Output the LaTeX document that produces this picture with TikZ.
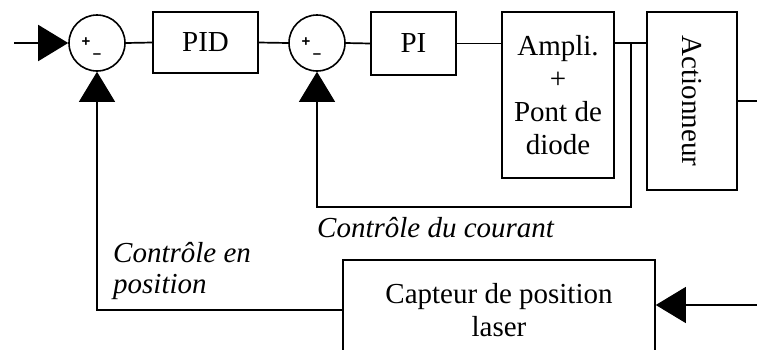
\documentclass[tikz,border=0pt]{standalone}
\usepackage{fontspec}
\setmainfont{Liberation Serif}
\newfontfamily\signefont{Liberation Sans}
\usetikzlibrary{arrows.meta,positioning}
\tikzset{
  bloc/.style={draw,line width=1.6pt,inner sep=0pt,align=center,font=\fontsize{29}{33}\selectfont},
  somme/.style={draw,circle,line width=1.6pt,minimum size=56pt,inner sep=0pt},
  signe/.style={inner sep=0pt,font=\signefont\bfseries\fontsize{15}{15}\selectfont},
  lien/.style={line width=1.7pt},
  retour/.style={line width=1.1pt},
  fleche/.style={-{Triangle[length=30pt,width=36pt]}},
  legende/.style={inner sep=0pt,align=left,anchor=base west,font=\fontsize{29}{31}\selectfont\itshape}
}
\begin{document}
\begin{tikzpicture}[x=1pt,y=-1pt]
\clip (0,0) rectangle (757,349);

% sommateurs
\node[somme] (s1) at (97,43) {};
\node[signe] (p1) at ([shift={(-11,-1)}]s1.center) {+};
\node[signe] (m1) at ([shift={(0,13)}]s1.center) {\textendash};
\node[somme] (s2) at (317,43) {};
\node[signe] (p2) at ([shift={(-11,-1)}]s2.center) {+};
\node[signe] (m2) at ([shift={(0,13)}]s2.center) {\textendash};

% blocs
\node[bloc,minimum width=105pt,minimum height=61pt] (pid) at (205.5,42.5) {PID};
\node[bloc,minimum width=85pt,minimum height=63pt] (pi) at (413.5,43.5) {PI};
\node[bloc,minimum width=112pt,minimum height=166pt] (amp) at (558,95) {Ampli.\\+\\Pont de\\diode};
\node[bloc,minimum width=90pt,minimum height=178pt] (act) at (692,101) {\rotatebox{-90}{Actionneur}};
\node[bloc,minimum width=312pt,minimum height=100pt] (capt) at (499,310) {Capteur de position\\laser};

\coordinate (in) at (14,43);
\coordinate (out) at (757,101);
\coordinate (br) at (631,43);
\coordinate (bas) at (631,207);
\coordinate (capin) at (757,305);

% chaine directe
\draw[lien,fleche] (in) -- (s1.west);
\draw[lien] (s1.east) -- (pid.west);
\draw[lien] (pid.east) -- (s2.west);
\draw[lien] (s2.east) -- (pi.west);
\draw[lien] (pi.east) -- (amp.west |- pi.east);
\draw[lien] (amp.east |- br) -- (act.west |- br);
\draw[lien] (act.east) -- (out);

% retours
\draw[retour,fleche] (br) -- (bas) -| (s2.south);
\draw[retour,fleche] (capin) -- (capin -| capt.east);
\draw[retour,fleche] (capt.west) -| (s1.south);

\node[legende] (lc) at (317,237) {Contrôle du courant};
\node[legende] (lp) at (113,293) {Contrôle en\\position};
\end{tikzpicture}
\end{document}
